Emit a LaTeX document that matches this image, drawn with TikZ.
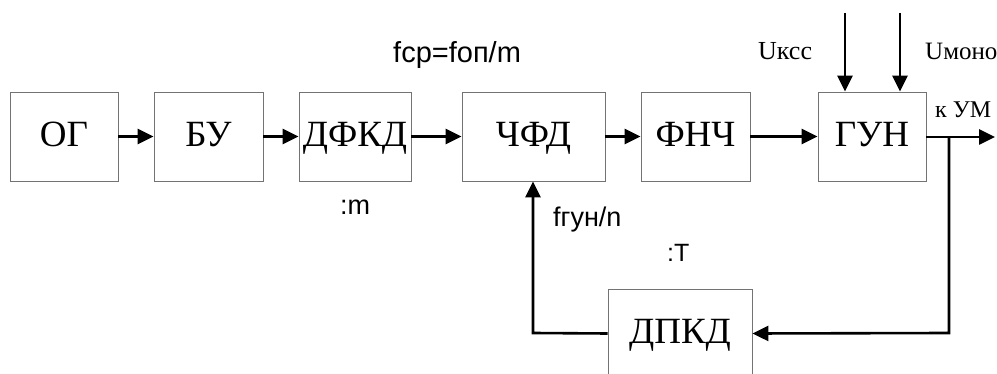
\documentclass[tikz,border=0pt]{standalone}
\usepackage{fontspec}
\setmainfont{Liberation Serif}
\newfontfamily\lsans{Liberation Sans}
\usetikzlibrary{arrows.meta}
\tikzset{
  blk/.style={draw=black!55, line width=0.9pt, inner sep=0pt, text height=30pt, text depth=9pt, font=\fontsize{37}{40}\selectfont},
  sig/.style={line width=2.6pt, -{Triangle[length=16pt,width=15pt]}},
  slab/.style={anchor=base west, inner sep=0pt, font=\lsans\fontsize{#1}{#1}\selectfont},
  rlab/.style={anchor=base west, inner sep=0pt, font=\fontsize{#1}{#1}\selectfont},
}
\begin{document}
\begin{tikzpicture}[x=1pt,y=-1pt]
\useasboundingbox (0,0) rectangle (997,374);
\clip (0,0) rectangle (997,374);
% boxes
\node[blk, minimum width=108pt, minimum height=89pt] (og)   at (64,136.5) {ОГ};
\node[blk, minimum width=109pt, minimum height=89pt] (bu)   at (208.5,136.5) {БУ};
\node[blk, minimum width=112pt, minimum height=89pt] (dfkd) at (355,136.5) {ДФКД};
\node[blk, minimum width=143pt, minimum height=89pt] (chfd) at (533.5,136.5) {ЧФД};
\node[blk, minimum width=109pt, minimum height=89pt] (fnch) at (695.5,136.5) {ФНЧ};
\node[blk, minimum width=108pt, minimum height=89pt] (gun)  at (872,136.5) {ГУН};
\node[blk, minimum width=144pt, minimum height=89pt] (dpkd) at (680,333.5) {ДПКД};
% coordinates
\coordinate (out) at (995,137);
\coordinate (br) at (949,137);
\coordinate (brd) at (949,333);
\coordinate (fbl) at (533,333);
\coordinate (in1) at (845,13);
\coordinate (in2) at (900,13);
% connectors
\draw[sig] (og) -- (bu);
\draw[sig] (bu) -- (dfkd);
\draw[sig] (dfkd) -- (chfd);
\draw[sig] (chfd) -- (fnch);
\draw[sig] (fnch) -- (gun);
\draw[sig] (gun.east |- out) -- (out);
\draw[sig] (br) -- (brd) -- (dpkd.east);
\draw[sig] (dpkd.west) -- (fbl) -- (fbl |- chfd.south);
\draw[sig] (in1) -- (in1 |- gun.north);
\draw[sig] (in2) -- (in2 |- gun.north);
% labels
\node[slab=29] (lfcp) at (393,63) {fcp=foп/m};
\node[rlab=26] (lukss) at (758,60) {Uксс};
\node[rlab=25] (lumono) at (925,60) {Uмоно};
\node[rlab=24] (lkum) at (935,118) {к УМ};
\node[slab=27] (lm) at (340,215) {:m};
\node[slab=27] (lfgun) at (553,227) {fгун/n};
\node[slab=25] (lt) at (667,262) {:T};
\end{tikzpicture}
\end{document}
